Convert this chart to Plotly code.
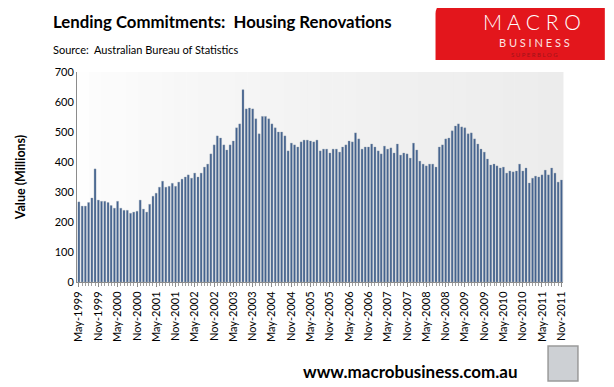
import plotly.graph_objects as go
import pandas as pd

# Monthly lending commitments for housing renovations ($ millions), May-1999 .. Nov-2011
start_month = "1999-05-01"
values = [
    267, 253, 253, 265, 280, 377, 273, 269, 269, 265, 255, 246, 269, 246, 239,
    239, 229, 233, 236, 273, 243, 233, 259, 286, 296, 316, 336, 316, 319, 329,
    319, 333, 343, 350, 357, 346, 363, 350, 363, 383, 393, 427, 457, 487, 480,
    457, 440, 457, 470, 514, 527, 641, 577, 580, 577, 544, 494, 552, 552, 544,
    527, 514, 500, 500, 487, 437, 463, 457, 450, 467, 473, 473, 470, 467, 473,
    437, 443, 443, 430, 443, 443, 433, 450, 457, 470, 467, 497, 477, 443, 450,
    450, 460, 450, 437, 427, 453, 443, 447, 430, 460, 423, 430, 427, 413, 463,
    440, 403, 393, 387, 393, 393, 383, 450, 457, 477, 480, 504, 520, 527, 517,
    514, 494, 497, 477, 460, 443, 433, 410, 390, 393, 387, 380, 383, 363, 370,
    367, 370, 393, 370, 380, 330, 346, 353, 350, 357, 373, 357, 380, 363, 333,
    340,
]
months = pd.date_range(start_month, periods=len(values), freq="MS")
y_ticks = [0, 100, 200, 300, 400, 500, 600, 700]

# page body has an 8px margin, so the figure is drawn 8px in from the window edge
OFF = 8
W, H = 606, 379
L, R, T, B = 67, 51, 64, 105
pw, ph = W - L - R, H - T - B


def px(x):
    return (x - OFF - L) / pw


def py(y):
    return (H - B - (y - OFF)) / ph


fig = go.Figure()
fig.add_trace(go.Bar(
    x=months, y=values,
    marker=dict(color="#42618E", line=dict(color="#9AA4B2", width=0.35)),
    hoverinfo="x+y",
))

shapes = []
# gradient background of plot area
n = 40
for i in range(n):
    t = (i + 0.5) / n
    g = int(round(255 - (255 - 236) * min(1.0, t ** 0.6)))
    shapes.append(dict(type="rect", xref="paper", yref="paper", x0=i / n, x1=(i + 1) / n + 0.001,
                       y0=0, y1=1, fillcolor=f"rgb({g},{g},{g})", line=dict(width=0), layer="below"))
# logo box with rounded top-left corner
x0, x1, y0, y1 = px(435), px(605), py(60), py(4)
rx, ry = 10 / pw, 10 / ph
shapes.append(dict(type="path", xref="paper", yref="paper",
                   path=f"M {x0},{y0} L {x0},{y1 - ry} Q {x0},{y1} {x0 + rx},{y1} L {x1},{y1} L {x1},{y0} Z",
                   fillcolor="#E3161C", line=dict(width=0), layer="above"))
# wolf picture placeholder
shapes.append(dict(type="rect", xref="paper", yref="paper", x0=px(548), x1=px(578), y0=py(381), y1=py(346),
                   fillcolor="#CDD0D4", line=dict(color="#9A9A9A", width=1.5), layer="above"))

annotations = [
    dict(text="<b>Lending Commitments:  Housing Renovations</b>", xref="paper", yref="paper",
         x=px(49), y=py(22), xanchor="left", yanchor="middle", showarrow=False,
         font=dict(family="Lato", size=16.8, color="black")),
    dict(text="Source:  Australian Bureau of Statistics", xref="paper", yref="paper",
         x=px(49), y=py(50), xanchor="left", yanchor="middle", showarrow=False,
         font=dict(family="Lato", size=11, color="black")),
    dict(text="<b>www.macrobusiness.com.au</b>", xref="paper", yref="paper",
         x=px(300), y=py(371), xanchor="left", yanchor="middle", showarrow=False,
         font=dict(family="Lato", size=17, color="black")),
    dict(text="M A C R O", xref="paper", yref="paper", x=px(532), y=py(22), xanchor="center", yanchor="middle",
         showarrow=False, font=dict(family="Lato", size=21, color="white", weight=300)),
    dict(text="B U S I N E S S", xref="paper", yref="paper", x=px(534), y=py(42), xanchor="center",
         yanchor="middle", showarrow=False, font=dict(family="Lato", size=11, color="#FBE3E3")),
    dict(text="S U P E R B L O G", xref="paper", yref="paper", x=px(534), y=py(54), xanchor="center",
         yanchor="middle", showarrow=False, font=dict(family="Lato", size=6, color="#A0141A")),
]

fig.update_layout(
    width=W, height=H,
    margin=dict(l=L, r=R, t=T, b=B),
    paper_bgcolor="white", plot_bgcolor="rgba(0,0,0,0)",
    bargap=0.33, showlegend=False,
    shapes=shapes, annotations=annotations,
    xaxis=dict(
        type="date", range=["1999-04-13", "2011-11-16"],
        tick0=start_month, dtick="M6", tickformat="%b-%Y", tickangle=-90,
        ticks="outside", ticklen=4, tickcolor="#8C8C8C",
        minor=dict(dtick="M1", ticks="outside", ticklen=3, tickcolor="#A0A0A0"),
        showline=True, linecolor="#8C8C8C", linewidth=1, showgrid=False,
        tickfont=dict(family="Lato", size=11, color="black"),
    ),
    yaxis=dict(
        range=[0, 700], tickvals=y_ticks, showgrid=False, zeroline=False,
        showline=True, linecolor="#8C8C8C", linewidth=1, ticks="",
        tickfont=dict(family="Lato", size=11, color="black"),
        title=dict(text="<b>Value (Millions)</b>", font=dict(family="Lato", size=12.5, color="black"), standoff=26),
    ),
)

fig.write_html("out.html")
